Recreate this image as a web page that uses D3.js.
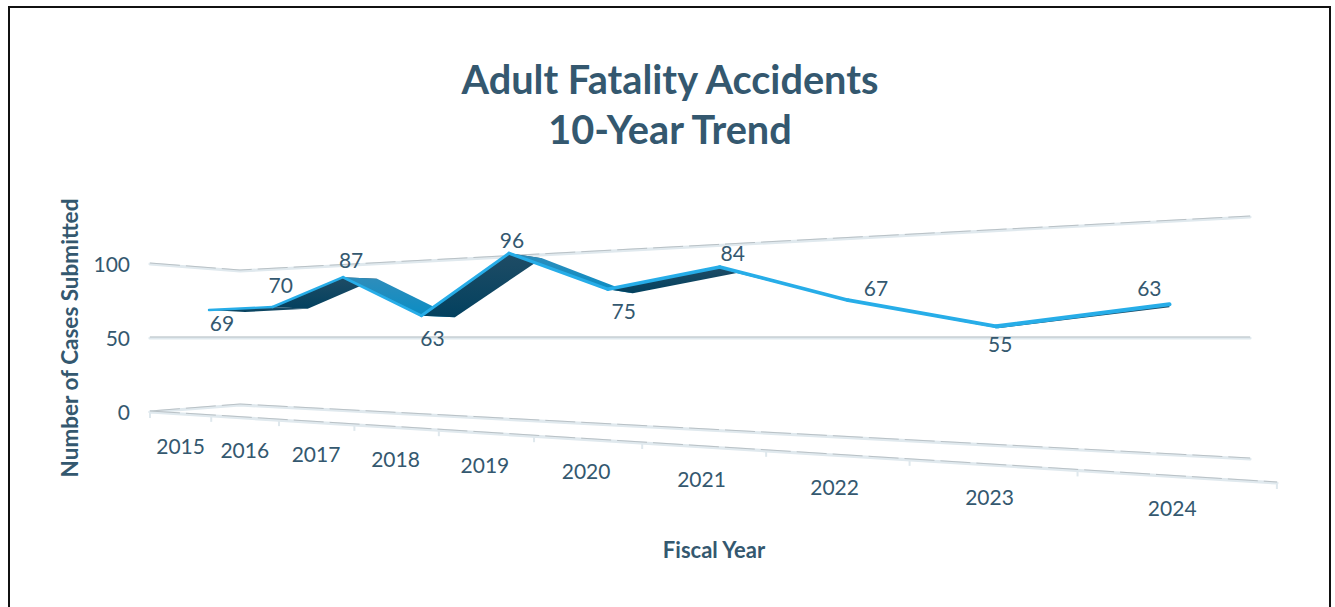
<!DOCTYPE html>
<html><head><meta charset="utf-8">
<script src="https://cdn.jsdelivr.net/npm/d3@7"></script>
<style>html,body{margin:0;padding:0;background:#fff;overflow:hidden}svg{display:block}text{font-family:Lato,"Open Sans",sans-serif;fill:#34586f}</style>
</head><body><svg id="c" width="1335" height="607"></svg>
<script>
// ---- data
const years = [2015,2016,2017,2018,2019,2020,2021,2022,2023,2024];
const cases = [69,70,87,63,96,75,84,67,55,63];
const yTicks = [0,50,100];
const titleLines = ["Adult Fatality Accidents","10-Year Trend"];
const yTitle = "Number of Cases Submitted";
const xTitle = "Fiscal Year";
// ---- layout: hand-placed label nudges, in px from the projected point
const labelNudgeX = [13,8,8,11,3,16,13,28,4,-20];
const labelNudgeY = [13,-22,-17,22,-13,22,-14,-12,18,-16];

const svg = d3.select("#c");
const defs = svg.append("defs");
function grad(id,a,b){
  const g=defs.append("linearGradient").attr("id",id).attr("x1",0).attr("x2",0).attr("y1",0).attr("y2",1);
  g.append("stop").attr("offset",0).attr("stop-color",a);
  g.append("stop").attr("offset",1).attr("stop-color",b);
}
grad("dk","#1f4c65","#03415f");
grad("lt","#2f8dbb","#0a8dc4");

svg.append("rect").attr("x",9).attr("y",7).attr("width",1321).attr("height",640).attr("fill","#fff").attr("stroke","#111").attr("stroke-width",2);

// perspective along the depth of the chart
const persp = (p,k)=>t=>k*t/(1-p*t);
const axisT = d3.scaleLinear().domain([0,years.length]).range([0,1]);
const axisPx = persp(0.483,582.6);
const axisX = i=>150+axisPx(axisT(i));
const axisY = d3.scaleLinear().domain([150,1277]).range([412,483]);

const serT = d3.scaleLinear().domain([0,years.length-1]).range([0,1]);
const serPx = persp(0.432,545.5);
const serX = i=>209+serPx(serT(i));
const unitAt = d3.scaleLinear().domain([209,1169]).range([1.5,2.633]);
const serY = (v,X)=>338.5-(v-50)*unitAt(X);
const backDx = d3.scaleLinear().domain([209,343,509,608,720,848,1169]).range([36,34,33,25,17,3,0]);
const backDy = d3.scaleLinear().domain([209,422,509,608,720,848,1169]).range([2,1.5,5,4,6,1,3]);
const lineWidth = d3.scaleLinear().domain([209,1169]).range([2.4,4.4]);

const front = cases.map((v,i)=>{const X=serX(i);return [X,serY(v,X)];});
const back = front.map(([x,y])=>[x+backDx(x),y+backDy(x)]);

// walls: left wall corner, back corner, right end
const corners = [150,240,1250];
const wall = yTicks.map(v=>{
  const ys=[d3.scaleLinear().domain([0,100]).range([412,264]),
            d3.scaleLinear().domain([0,100]).range([405,271]),
            d3.scaleLinear().domain([0,100]).range([459,217])];
  return corners.map((x,i)=>[x,ys[i](v)]);
});
const lineGen = d3.line();
const gridG = svg.append("g");
function styled(g,pts,dash){
  g.append("path").attr("d",lineGen(pts)).attr("fill","none").attr("stroke","#e0e9ee").attr("stroke-width",3.2).attr("stroke-linecap","round").attr("stroke-linejoin","round");
  g.append("path").attr("d",lineGen(pts.map(([x,y])=>[x,y-1]))).attr("fill","none").attr("stroke","#b4bcc1").attr("stroke-width",.9).attr("stroke-dasharray",dash);
}
wall.forEach((w,i)=>styled(gridG,w,yTicks[i]===50?"1100 70":"30 6"));
// front floor edge with ticks
const ax=[[150,axisY(150)],[1277,axisY(1277)]];
d3.range(years.length+1).forEach(i=>{
  const X=axisX(i);
  gridG.append("line").attr("x1",X).attr("x2",X).attr("y1",axisY(X)).attr("y2",axisY(X)+6).attr("stroke","#dfe8ed").attr("stroke-width",2);
});
styled(gridG,ax,"30 6");

// ribbon, painted in category order
const rib = svg.append("g");
d3.range(cases.length-1).forEach(i=>{
  const rising=front[i+1][1]<front[i][1];
  const flat=Math.abs(front[i+1][1]-front[i][1])<4;
  const q=[front[i],front[i+1],back[i+1],back[i]];
  rib.append("path").attr("d",lineGen(q)+"Z").attr("fill",`url(#${(rising||flat)?"dk":"lt"})`);
});
// front edge: gets wider toward the viewer
d3.range(cases.length-1).forEach(i=>{
  const m=(front[i][0]+front[i+1][0])/2;
  svg.append("path").attr("d",lineGen([front[i],front[i+1]])).attr("fill","none").attr("stroke","#27ade8").attr("stroke-width",lineWidth(m)).attr("stroke-linecap","round");
});

// text
titleLines.forEach((t,i)=>svg.append("text").attr("x",670).attr("y",94+i*50).attr("text-anchor","middle").attr("font-size",39.7).attr("font-weight",700).text(t));
yTicks.forEach((v,k)=>svg.append("text").attr("x",130).attr("y",wall[k][0][1]+8).attr("text-anchor","end").attr("font-size",21).text(v));
years.forEach((y,i)=>{
  const mid=(axisX(i)+axisX(i+1))/2;
  const X=mid-(mid-181)*.005;
  svg.append("text").attr("x",X).attr("y",axisY(X)+40).attr("text-anchor","middle").attr("font-size",21).text(y);
});
cases.forEach((v,i)=>{
  svg.append("text").attr("x",front[i][0]+labelNudgeX[i]).attr("y",front[i][1]+labelNudgeY[i]+8).attr("text-anchor","middle").attr("font-size",21).text(v);
});
svg.append("text").attr("transform","translate(78,338) rotate(-90)").attr("text-anchor","middle").attr("font-size",22.5).attr("font-weight",700).text(yTitle);
svg.append("text").attr("x",714).attr("y",558).attr("text-anchor","middle").attr("font-size",22).attr("font-weight",700).text(xTitle);
</script></body></html>
